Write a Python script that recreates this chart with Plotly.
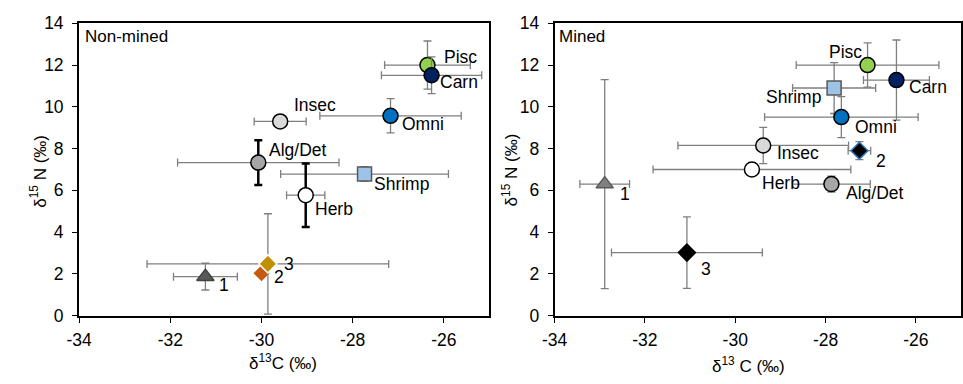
import plotly.graph_objects as go

# ---------------- data ----------------
# Non-mined panel
nm_names = ["Pisc", "Carn", "Insec", "Omni", "Alg/Det", "Shrimp", "Herb", "1", "2", "3"]
nm_x = [-26.36, -26.27, -29.59, -27.17, -30.07, -27.74, -29.03, -31.23, -30.00, -29.86]
nm_y = [12.00, 11.51, 9.30, 9.57, 7.33, 6.78, 5.77, 1.87, 2.03, 2.48]
nm_xerr = [0.94, 1.10, 0.57, 1.55, 1.77, 1.84, 0.42, 0.70, 0.0, 2.65]
nm_yerr = [1.15, 0.88, 0.0, 0.82, 1.07, 0.35, 1.52, 0.64, 0.0, 2.40]

# Mined panel
m_names = ["Pisc", "Carn", "Shrimp", "Omni", "Insec", "2", "Herb", "Alg/Det", "1", "3"]
m_x = [-27.07, -26.43, -27.81, -27.65, -29.38, -27.25, -29.63, -27.87, -32.89, -31.07]
m_y = [12.00, 11.28, 10.90, 9.51, 8.15, 7.90, 7.00, 6.30, 6.30, 3.02]
m_xerr = [1.58, 0.73, 0.92, 1.70, 1.89, 0.25, 2.19, 0.86, 0.55, 1.67]
m_yerr = [1.06, 1.92, 1.22, 0.98, 0.87, 0.43, 0.0, 0.38, 5.00, 1.71]

x_ticks = [-34, -32, -30, -28, -26]
x_ticklabels = ["-34", "-32", "-30", "-28", "-26"]
y_ticks = [0, 2, 4, 6, 8, 10, 12, 14]
y_ticklabels = ["0", "2", "4", "6", "8", "10", "12", "14"]

# ---------------- styles ----------------
FONT = "Arial, 'Liberation Sans', sans-serif"
GRAY_ERR = "#7f7f7f"

style = {
    "Pisc": dict(symbol="circle", color="#92D050", size=15, line="#000000"),
    "Carn": dict(symbol="circle", color="#002060", size=15, line="#000000"),
    "Omni": dict(symbol="circle", color="#0070C0", size=15, line="#000000"),
    "Insec": dict(symbol="circle", color="#D9D9D9", size=15, line="#000000"),
    "Alg/Det": dict(symbol="circle", color="#A6A6A6", size=15, line="#000000"),
    "Herb": dict(symbol="circle", color="#FFFFFF", size=15, line="#000000"),
    "Shrimp": dict(symbol="square", color="#9DC3E6", size=14, line="#595959"),
}
nm_special = {
    "1": dict(symbol="triangle-up", color="#595959", size=15, line="#404040"),
    "2": dict(symbol="diamond", color="#C55A11", size=14, line="#ffffff"),
    "3": dict(symbol="diamond", color="#BF9000", size=14, line="#ffffff"),
}
m_special = {
    "1": dict(symbol="triangle-up", color="#808080", size=15, line="#595959"),
    "2": dict(symbol="diamond", color="#000000", size=13, line="#2E75B6"),
    "3": dict(symbol="diamond", color="#000000", size=13, line="#000000"),
}
thick_y_nm = {"Alg/Det", "Herb"}

# label offsets in px (dx, dy, anchor)
nm_lab = {
    "Pisc": (15, -8, "left"), "Carn": (6, 7, "left"), "Insec": (12, -16, "left"),
    "Omni": (9, 8, "left"), "Alg/Det": (9, -13, "left"), "Shrimp": (7, 10, "left"),
    "Herb": (7, 14, "left"), "1": (12, 8, "left"), "2": (11, 4, "left"), "3": (14, 0, "left"),
}
m_lab = {
    "Pisc": (-4, -13, "right"), "Carn": (11, 7, "left"), "Shrimp": (-11, 9, "right"),
    "Omni": (12, 10, "left"), "Insec": (12, 8, "left"), "2": (15, 10, "left"),
    "Herb": (8, 14, "left"), "Alg/Det": (13, 9, "left"), "1": (13, 10, "left"),
    "3": (12, 16, "left"),
}

fig = go.Figure()
annotations = []


def add_panel(names, xs, ys, xerrs, yerrs, special, thick, labs, xa, ya):
    for n, x, y, ex, ey in zip(names, xs, ys, xerrs, yerrs):
        st = special.get(n, style.get(n))
        ycol = "#000000" if n in thick else GRAY_ERR
        ythk = 2.5 if n in thick else 1.3
        fig.add_trace(go.Scatter(
            x=[x], y=[y], mode="markers", xaxis=xa, yaxis=ya, showlegend=False,
            marker=dict(symbol=st["symbol"], color=st["color"], size=st["size"],
                        line=dict(color=st["line"], width=1.5)),
            error_x=dict(type="data", array=[ex], visible=ex > 0, color=GRAY_ERR,
                         thickness=1.3, width=4),
            error_y=dict(type="data", array=[ey], visible=ey > 0, color=ycol,
                         thickness=ythk, width=4),
        ))
        dx, dy, anc = labs[n]
        annotations.append(dict(
            x=x, y=y, xref=xa, yref=ya, text=n, showarrow=False,
            xanchor=anc, yanchor="middle", xshift=dx, yshift=-dy,
            font=dict(family=FONT, size=17.5, color="#000000"),
        ))


add_panel(nm_names, nm_x, nm_y, nm_xerr, nm_yerr, nm_special, thick_y_nm, nm_lab, "x", "y")
add_panel(m_names, m_x, m_y, m_xerr, m_yerr, m_special, set(), m_lab, "x2", "y2")

W, H = 963, 384
axis_common = dict(
    range=[-34, -25], tickvals=x_ticks, ticktext=x_ticklabels, ticks="outside", ticklen=5,
    tickwidth=1.3, tickcolor="#000000", showline=True, linecolor="#000000", mirror=True,
    showgrid=False, zeroline=False, ticklabelstandoff=2,
    tickfont=dict(family=FONT, size=17.5, color="#000000"),
)
yaxis_common = dict(
    range=[0, 14], tickvals=y_ticks, ticktext=y_ticklabels, ticks="outside", ticklen=5,
    tickwidth=1.3, tickcolor="#000000", showline=True, linecolor="#000000", mirror=True,
    showgrid=False, zeroline=False, ticklabelstandoff=5,
    tickfont=dict(family=FONT, size=17.5, color="#000000"),
)

ytop = 1 - 14 / H
ybot = 1 - 322.5 / H

annotations += [
    dict(x=71 / W, y=1 - 28 / H, xref="paper", yref="paper", text="Non-mined", showarrow=False,
         xanchor="left", yanchor="middle", font=dict(family=FONT, size=17, color="#000")),
    dict(x=551 / W, y=1 - 28 / H, xref="paper", yref="paper", text="Mined", showarrow=False,
         xanchor="left", yanchor="middle", font=dict(family=FONT, size=17, color="#000")),
    dict(x=26 / W, y=1 - 170 / H, xref="paper", yref="paper", text="δ<sup>15</sup> N (‰)",
         showarrow=False, textangle=-90, xanchor="center", yanchor="middle",
         font=dict(family=FONT, size=17, color="#000")),
    dict(x=504 / W, y=1 - 169 / H, xref="paper", yref="paper", text="δ<sup>15</sup> N (‰)",
         showarrow=False, textangle=-90, xanchor="center", yanchor="middle",
         font=dict(family=FONT, size=17, color="#000")),
    dict(x=274 / W, y=1 - 371 / H, xref="paper", yref="paper", text="δ<sup>13</sup>C (‰)",
         showarrow=False, xanchor="center", yanchor="middle",
         font=dict(family=FONT, size=17, color="#000")),
    dict(x=746 / W, y=1 - 375 / H, xref="paper", yref="paper", text="δ<sup>13</sup> C (‰)",
         showarrow=False, xanchor="center", yanchor="middle",
         font=dict(family=FONT, size=17, color="#000")),
]

fig.update_layout(
    width=W, height=H, margin=dict(l=0, r=0, t=0, b=0),
    paper_bgcolor="#ffffff", plot_bgcolor="#ffffff",
    xaxis=dict(domain=[67 / W, 483 / W], anchor="y", linewidth=2, **axis_common),
    yaxis=dict(domain=[ybot, ytop], anchor="x", linewidth=2, **yaxis_common),
    xaxis2=dict(domain=[549 / W, 961 / W], anchor="y2", linewidth=1.6, **axis_common),
    yaxis2=dict(domain=[ybot, ytop], anchor="x2", linewidth=1.6, **yaxis_common),
    annotations=annotations,
)

fig.write_html("out.html")
